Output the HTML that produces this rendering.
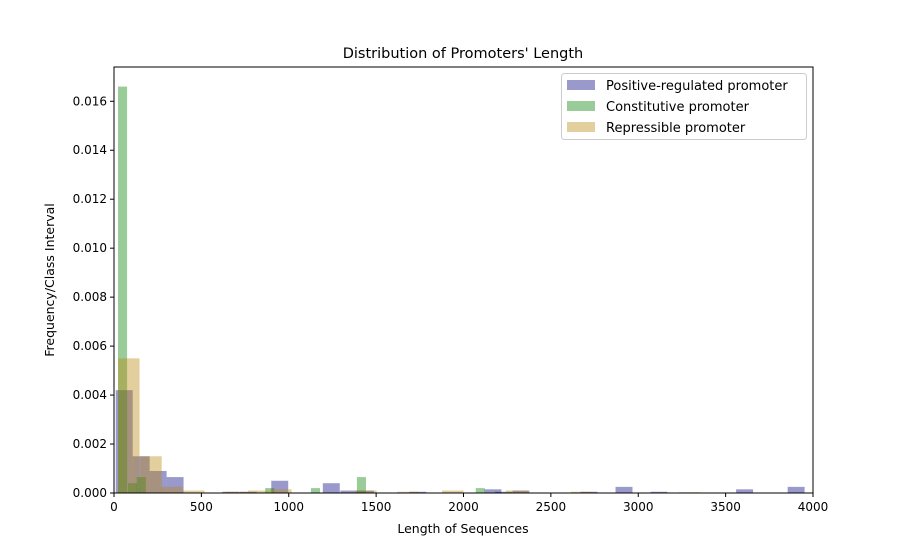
<!DOCTYPE html>
<html><head><meta charset="utf-8"><style>
body{margin:0;background:#fff;}
svg text{font-family:"DejaVu Sans","Liberation Sans",sans-serif;fill:#000;}
</style></head><body>
<svg id="chart" width="903" height="554" xmlns="http://www.w3.org/2000/svg">
<rect width="903" height="554" fill="#fff"/>
<text x="463" y="58" font-size="14.5" text-anchor="middle">Distribution of Promoters' Length</text>
<g id="bars"></g>
<g id="axes"></g>
<text x="463" y="533" font-size="12.5" text-anchor="middle">Length of Sequences</text>
<text transform="translate(54,280) rotate(-90)" font-size="12.5" text-anchor="middle">Frequency/Class Interval</text>
<g>
<rect x="561.5" y="73.5" width="245" height="66" rx="3" fill="#fff" fill-opacity="0.8" stroke="#ccc"/>
<g><rect x="567" y="80" width="28" height="10" fill="#000080" fill-opacity="0.4"/><text x="606" y="90" font-size="13">Positive-regulated promoter</text></g>
<g><rect x="567" y="101" width="28" height="10" fill="#008000" fill-opacity="0.4"/><text x="606" y="111" font-size="13">Constitutive promoter</text></g>
<g><rect x="567" y="122" width="28" height="10" fill="#b8860b" fill-opacity="0.4"/><text x="606" y="132" font-size="13">Repressible promoter</text></g>
</g>
</svg>
<script>
const xTicks=[0,500,1000,1500,2000,2500,3000,3500,4000];
const yTicks=[0,0.002,0.004,0.006,0.008,0.010,0.012,0.014,0.016];
const yTickLabels=["0.000","0.002","0.004","0.006","0.008","0.010","0.012","0.014","0.016"];
const posStarts=[10,107,204,301,620,720,900,1195,1295,1390,1690,2120,2180,2280,2670,2870,3070,3560,3855];
const posValues=[0.0042,0.0015,0.0009,0.00065,0.00005,0.00005,0.0005,0.0004,0.0001,0.0001,0.00005,0.00015,0.00005,0.0001,0.00005,0.00025,0.00005,0.00015,0.00025];
const posWidth=97;
const conStarts=[23,80,130,865,1127,1390,2070];
const conValues=[0.0166,0.0004,0.00065,0.0002,0.0002,0.00065,0.0002];
const conWidth=52;
const repStarts=[23,150,270,395,640,767,893,1380,1620,1877,2243,2615,3233];
const repValues=[0.0055,0.0015,0.00025,0.0001,0.00005,0.0001,0.00015,0.0001,0.00005,0.0001,0.0001,0.00005,0.00003];
const repWidth=123;
const X0=114,X1=813,Y0=493,Y1=67;
const xs=v=>X0+(v-0)/(4000-0)*(X1-X0);
const ys=v=>Y0-v/0.0174*(Y0-Y1);
const NS="http://www.w3.org/2000/svg";
const bars=document.getElementById('bars');
function series(starts,vals,w,color,name){
  starts.forEach((s,i)=>{
    const r=document.createElementNS(NS,'rect');
    const x=xs(s),x2=xs(s+w),y=ys(vals[i]);
    r.setAttribute('x',x);r.setAttribute('y',y);
    r.setAttribute('width',x2-x);r.setAttribute('height',Y0-y);
    r.setAttribute('fill',color);r.setAttribute('fill-opacity','0.4');
    
    
    bars.appendChild(r);
  });
}
series(posStarts,posValues,posWidth,'#000080','positive');
series(conStarts,conValues,conWidth,'#008000','constitutive');
series(repStarts,repValues,repWidth,'#b8860b','repressible');
const ax=document.getElementById('axes');
let h='<rect x="'+X0+'" y="'+Y1+'" width="'+(X1-X0)+'" height="'+(Y0-Y1)+'" fill="none" stroke="#000" stroke-width="1"/>';
xTicks.forEach(t=>{const x=xs(t);h+='<line x1="'+x+'" x2="'+x+'" y1="'+Y0+'" y2="'+(Y0+4)+'" stroke="#000"/><text x="'+x+'" y="'+(Y0+18)+'" font-size="12" text-anchor="middle">'+t+'</text>';});
yTicks.forEach((t,i)=>{const y=ys(t);h+='<line x1="'+(X0-4)+'" x2="'+X0+'" y1="'+y+'" y2="'+y+'" stroke="#000"/><text x="'+(X0-7)+'" y="'+(y+4)+'" font-size="12" text-anchor="end">'+yTickLabels[i]+'</text>';});
ax.innerHTML=h;


</script>
</body></html>
